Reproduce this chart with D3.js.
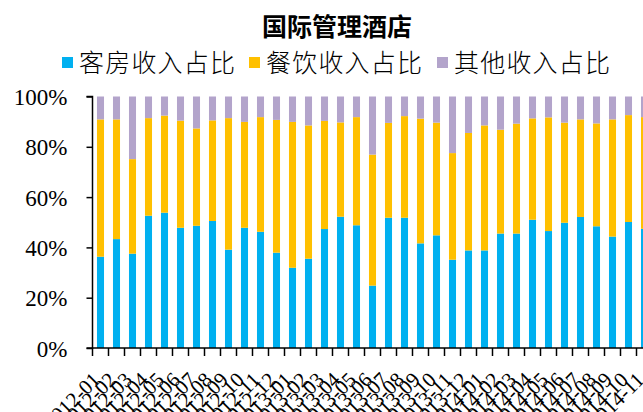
<!DOCTYPE html>
<html>
<head>
<meta charset="utf-8">
<script src="https://cdn.jsdelivr.net/npm/d3@7/dist/d3.min.js"></script>
<style>
  html, body { margin: 0; padding: 0; background: #fff; }
  svg { display: block; }
</style>
</head>
<body>
<svg id="chart" width="643" height="412"></svg>
<script>
// Monthly revenue mix (share of total) for internationally managed hotels
const months = [
  "2012-01","2012-02","2012-03","2012-04","2012-05","2012-06","2012-07","2012-08","2012-09","2012-10","2012-11","2012-12",
  "2013-01","2013-02","2013-03","2013-04","2013-05","2013-06","2013-07","2013-08","2013-09","2013-10","2013-11","2013-12",
  "2014-01","2014-02","2014-03","2014-04","2014-05","2014-06","2014-07","2014-08","2014-09","2014-10","2014-11"
];
// rooms share (%)
const roomShare = [
  36.3, 43.3, 37.5, 52.6, 53.8, 47.8, 48.6, 50.5, 39.1, 47.8, 46.2, 37.9,
  31.9, 35.5, 47.3, 52.2, 48.8, 24.8, 51.8, 51.8, 41.6, 44.8, 35.1, 38.8,
  38.8, 45.5, 45.5, 51.0, 46.5, 49.8, 52.1, 48.4, 44.3, 50.1, 47.4
];
// food & beverage share (%)
const fbShare = [
  54.6, 47.6, 37.6, 38.8, 38.6, 42.6, 38.7, 40.0, 52.3, 42.1, 45.6, 52.8,
  58.0, 53.0, 43.0, 37.5, 43.0, 52.1, 37.7, 40.4, 49.6, 44.8, 42.4, 46.7,
  49.7, 41.3, 43.7, 40.3, 45.2, 39.8, 38.8, 40.9, 46.6, 42.5, 44.4
];
// other share (%) = remainder of each month
const otherShare = [
  9.1, 9.1, 24.9, 8.6, 7.6, 9.6, 12.7, 9.5, 8.6, 10.1, 8.2, 9.3,
  10.1, 11.5, 9.7, 10.3, 8.2, 23.1, 10.5, 7.8, 8.8, 10.4, 22.5, 14.5,
  11.5, 13.2, 10.8, 8.7, 8.3, 10.4, 9.1, 10.7, 9.1, 7.4, 8.2
];
const seriesNames = ["客房收入占比", "餐饮收入占比", "其他收入占比"];
const seriesColors = ["#00B0F0", "#FFC000", "#B3A4CB"];
const yTicks = [0, 0.2, 0.4, 0.6, 0.8, 1.0];

const svg = d3.select("#chart");
const serif = "'Liberation Serif', 'Times New Roman', serif";
const cjk = "'Noto Sans CJK SC', sans-serif";

const plotLeft = 92.5, plotBottom = 348, plotTop = 96.5, step = 16;

const rows = months.map((m, i) => ({
  month: m,
  rooms: roomShare[i] / 100,
  fb: fbShare[i] / 100,
  other: otherShare[i] / 100
}));
const keys = ["rooms", "fb", "other"];
const stacked = d3.stack().keys(keys)(rows);

const x = d3.scaleBand()
  .domain(months)
  .range([plotLeft, plotLeft + step * months.length])
  .paddingInner(0.56)
  .paddingOuter(0.28);

const y = d3.scaleLinear().domain([0, 1]).range([plotBottom, plotTop]);

// title
svg.append("text")
  .attr("x", 337).attr("y", 36)
  .attr("text-anchor", "middle")
  .attr("font-family", cjk)
  .attr("font-weight", "bold")
  .attr("font-size", 25)
  .text("国际管理酒店");

// legend
const legend = svg.append("g");
const legendX = [62, 249, 437];
seriesNames.forEach((name, i) => {
  const g = legend.append("g").attr("transform", `translate(${legendX[i]},0)`);
  g.append("rect").attr("x", 0).attr("y", 57).attr("width", 11).attr("height", 11)
    .attr("fill", seriesColors[i]);
  g.append("text").attr("x", 17).attr("y", 72)
    .attr("font-family", cjk).attr("font-size", 25)
    .attr("font-weight", 300)
    .attr("letter-spacing", 1.2)
    .text(name);
});

// bars
const layer = svg.append("g");
stacked.forEach((s, si) => {
  layer.append("g").attr("fill", seriesColors[si])
    .selectAll("rect")
    .data(s)
    .join("rect")
    .attr("x", d => x(d.data.month))
    .attr("width", x.bandwidth())
    .attr("y", d => y(d[1]))
    .attr("height", d => y(d[0]) - y(d[1]));
});

// y axis
const yAxis = d3.axisLeft(y)
  .tickValues(yTicks)
  .tickFormat(d3.format(".0%"))
  .tickSize(6)
  .tickPadding(19);
const gy = svg.append("g").attr("transform", `translate(${plotLeft},0)`).call(yAxis);
gy.select(".domain").attr("stroke", "#000").attr("stroke-width", 1.5).attr("d", `M-6,${plotTop}H0V${plotBottom}H-6`);
gy.selectAll(".tick line").attr("stroke", "#000").attr("stroke-width", 1.5);
gy.selectAll(".tick text")
  .attr("font-family", serif).attr("font-size", 23).attr("fill", "#000").attr("dy", "0.35em");

// x axis: labels at bar centres, tick marks on category boundaries
const xAxis = d3.axisBottom(x).tickSize(0).tickPadding(0);
const gx = svg.append("g").attr("transform", `translate(0,${plotBottom})`).call(xAxis);
gx.select(".domain").attr("stroke", "#000").attr("stroke-width", 1.5).attr("d", `M${plotLeft},0H${plotLeft + step * months.length}`);
gx.selectAll(".tick text")
  .attr("font-family", serif).attr("font-size", 21).attr("fill", "#000")
  .attr("text-anchor", "end")
  .attr("dy", null).attr("y", null)
  .attr("transform", "translate(1,33) rotate(-45)");

const gap = (x.step() - x.bandwidth()) / 2;
gx.append("g").selectAll("line")
  .data(months)
  .join("line")
  .attr("x1", d => x(d) - gap).attr("x2", d => x(d) - gap)
  .attr("y1", 0).attr("y2", 8)
  .attr("stroke", "#000").attr("stroke-width", 1.5);
</script>
</body>
</html>
